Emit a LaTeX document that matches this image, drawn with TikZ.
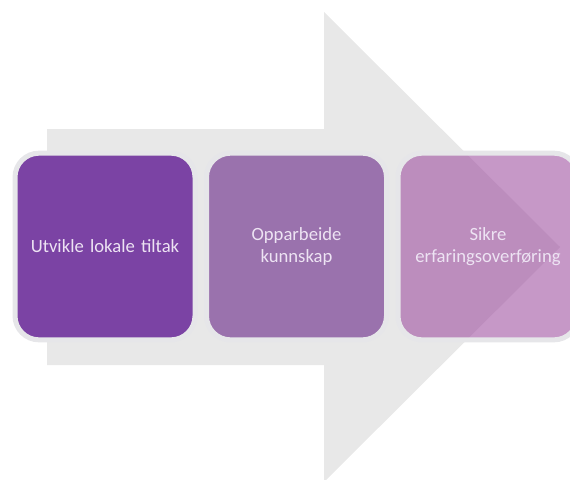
\documentclass[tikz,border=0pt]{standalone}
\usepackage{fontspec}
\setmainfont{Carlito}
\definecolor{arrowgray}{HTML}{E8E8E8}
\definecolor{rimgray}{HTML}{E6E6E9}
\definecolor{boxA}{HTML}{7B43A4}
\definecolor{boxB}{HTML}{9A72AD}
\definecolor{boxC}{RGB}{155,73,157}
\definecolor{txt}{HTML}{EDE3F3}
\begin{document}
\begin{tikzpicture}[x=0.75pt,y=-0.75pt,
  stepbox/.style={draw=rimgray,line width=3.75pt,rounded corners=18pt,
    minimum width=135pt,minimum height=140pt,text width=130pt,align=center,
    text=txt,font=\fontsize{14}{16.5}\selectfont,inner sep=0pt}]
\useasboundingbox (0,0) rectangle (570,479);
\clip (0,0) rectangle (570,479);
\fill[arrowgray] (47,129) -- (324,129) -- (324,12) -- (560,247) -- (324,482) -- (324,365) -- (47,365) -- cycle;
\node[stepbox,fill=boxA] (a) at (105,246.5) {Utvikle lokale tiltak};
\node[stepbox,fill=boxB] (b) at (296.5,246.5) {Opparbeide\\kunnskap};
\node[stepbox,fill=boxC,fill opacity=0.57,text opacity=1] (c) at (488,246.5) {Sikre\\erfaringsoverføring};
\end{tikzpicture}
\end{document}
